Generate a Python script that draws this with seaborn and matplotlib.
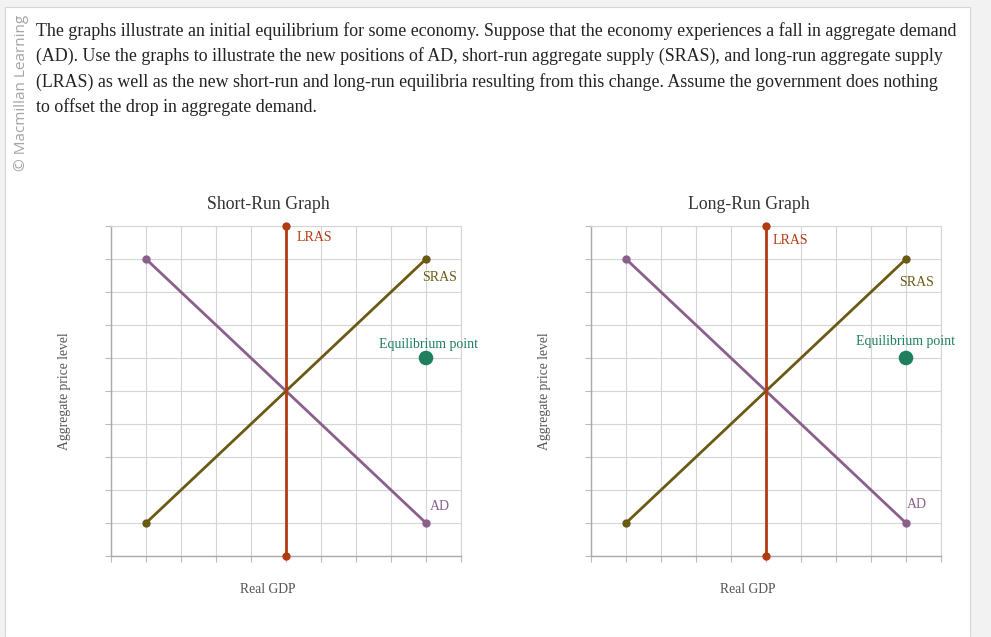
import matplotlib
matplotlib.use("Agg")
import matplotlib.pyplot as plt
from matplotlib.patches import Rectangle
import seaborn as sns
import pandas as pd

# ---- data ----
curves = ["AD", "SRAS", "LRAS"]
ad_x = [1, 9]
ad_y = [9, 1]
sras_x = [1, 9]
sras_y = [1, 9]
lras_x = [5, 5]
lras_y = [0, 10]
eq_x = [9]
eq_y = [6]
panel_titles = ["Short-Run Graph", "Long-Run Graph"]
x_label = "Real GDP"
y_label = "Aggregate price level"
eq_label = "Equilibrium point"
ticks = list(range(0, 11))
prompt = ("The graphs illustrate an initial equilibrium for some economy. Suppose that the economy experiences a fall in aggregate demand\n"
          "(AD). Use the graphs to illustrate the new positions of AD, short-run aggregate supply (SRAS), and long-run aggregate supply\n"
          "(LRAS) as well as the new short-run and long-run equilibria resulting from this change. Assume the government does nothing\n"
          "to offset the drop in aggregate demand.")

colors = {"AD": "#8a5f8c", "SRAS": "#6b5a14", "LRAS": "#b23c12"}
eq_color = "#1e7f5e"

df = pd.DataFrame({
    "curve": ["AD"] * 2 + ["SRAS"] * 2 + ["LRAS"] * 2,
    "x": ad_x + sras_x + lras_x,
    "y": ad_y + sras_y + lras_y,
})
eq_df = pd.DataFrame({"x": eq_x, "y": eq_y})

sns.set_theme(style="white")
plt.rcParams["font.family"] = ["Liberation Serif", "DejaVu Serif"]

W, H = 991, 637
fig = plt.figure(figsize=(W / 100, H / 100), dpi=100)
fig.patch.set_facecolor("#f2f2f2")
fig.patches.append(Rectangle((5 / W, 0), 965 / W, (H - 7) / H, transform=fig.transFigure,
                             facecolor="white", edgecolor="#d6d6d6", lw=0.8, zorder=-5))

fig.text(36 / W, 1 - 22 / H, prompt, ha="left", va="top", fontsize=12.9,
         color="#222222", linespacing=1.545)
fig.text(22 / W, 1 - 93 / H, "© Macmillan Learning", rotation=90, ha="center", va="center",
         fontsize=11, color="#a4a4a4", family=["Open Sans", "DejaVu Sans"])

label_pos = {
    0: {"LRAS": (5.3, 9.65), "SRAS": (8.9, 8.45), "AD": (9.1, 1.5), "EQ": (9.08, 6.4)},
    1: {"LRAS": (5.2, 9.55), "SRAS": (9.3, 8.3), "AD": (9.3, 1.55), "EQ": (9.0, 6.5)},
}

for i, left in enumerate([111, 591]):
    ax = fig.add_axes([left / W, (H - 556) / H, 350 / W, 330 / H])
    ax.set_facecolor("white")
    ax.set_xlim(0, 10)
    ax.set_ylim(0, 10)
    ax.set_xticks(ticks)
    ax.set_yticks(ticks)
    ax.set_xticklabels([])
    ax.set_yticklabels([])
    ax.grid(True, color="#d4d4d4", lw=0.8)
    ax.tick_params(axis="both", length=4.5, width=0.8, color="#bbbbbb", direction="out",
                   bottom=True, left=True)
    for s in ["top", "right"]:
        ax.spines[s].set_color("#d4d4d4")
        ax.spines[s].set_linewidth(0.8)
    for s in ["left", "bottom"]:
        ax.spines[s].set_color("#aaaaaa")
        ax.spines[s].set_linewidth(1.0)

    sns.lineplot(data=df, x="x", y="y", hue="curve", units="curve", estimator=None,
                 sort=False, palette=colors, hue_order=curves, lw=2.0, marker="o",
                 markersize=6, markeredgewidth=0, legend=False, ax=ax, clip_on=False, zorder=3)
    sns.scatterplot(data=eq_df, x="x", y="y", color=eq_color, s=110, edgecolor="none",
                    ax=ax, legend=False, zorder=4, clip_on=False)

    lp = label_pos[i]
    ax.text(*lp["LRAS"], "LRAS", color=colors["LRAS"], fontsize=10, ha="left", va="center")
    ax.text(*lp["SRAS"], "SRAS", color=colors["SRAS"], fontsize=10, ha="center" if i else "left", va="center")
    ax.text(*lp["AD"], "AD", color=colors["AD"], fontsize=10, ha="center" if i else "left", va="center")
    ax.text(*lp["EQ"], eq_label, color=eq_color, fontsize=10, ha="center", va="center")

    ax.set_title(panel_titles[i], fontsize=12.8, color="#333333", pad=12, x=0.45)
    ax.set_xlabel(x_label, fontsize=9.8, color="#555555")
    ax.xaxis.set_label_coords(157 / 350, -27 / 330)
    ax.set_ylabel(y_label, fontsize=9.8, color="#555555")
    ax.yaxis.set_label_coords(-40 / 350, 0.5)

fig.savefig("out.png", dpi=100, facecolor=fig.get_facecolor())
